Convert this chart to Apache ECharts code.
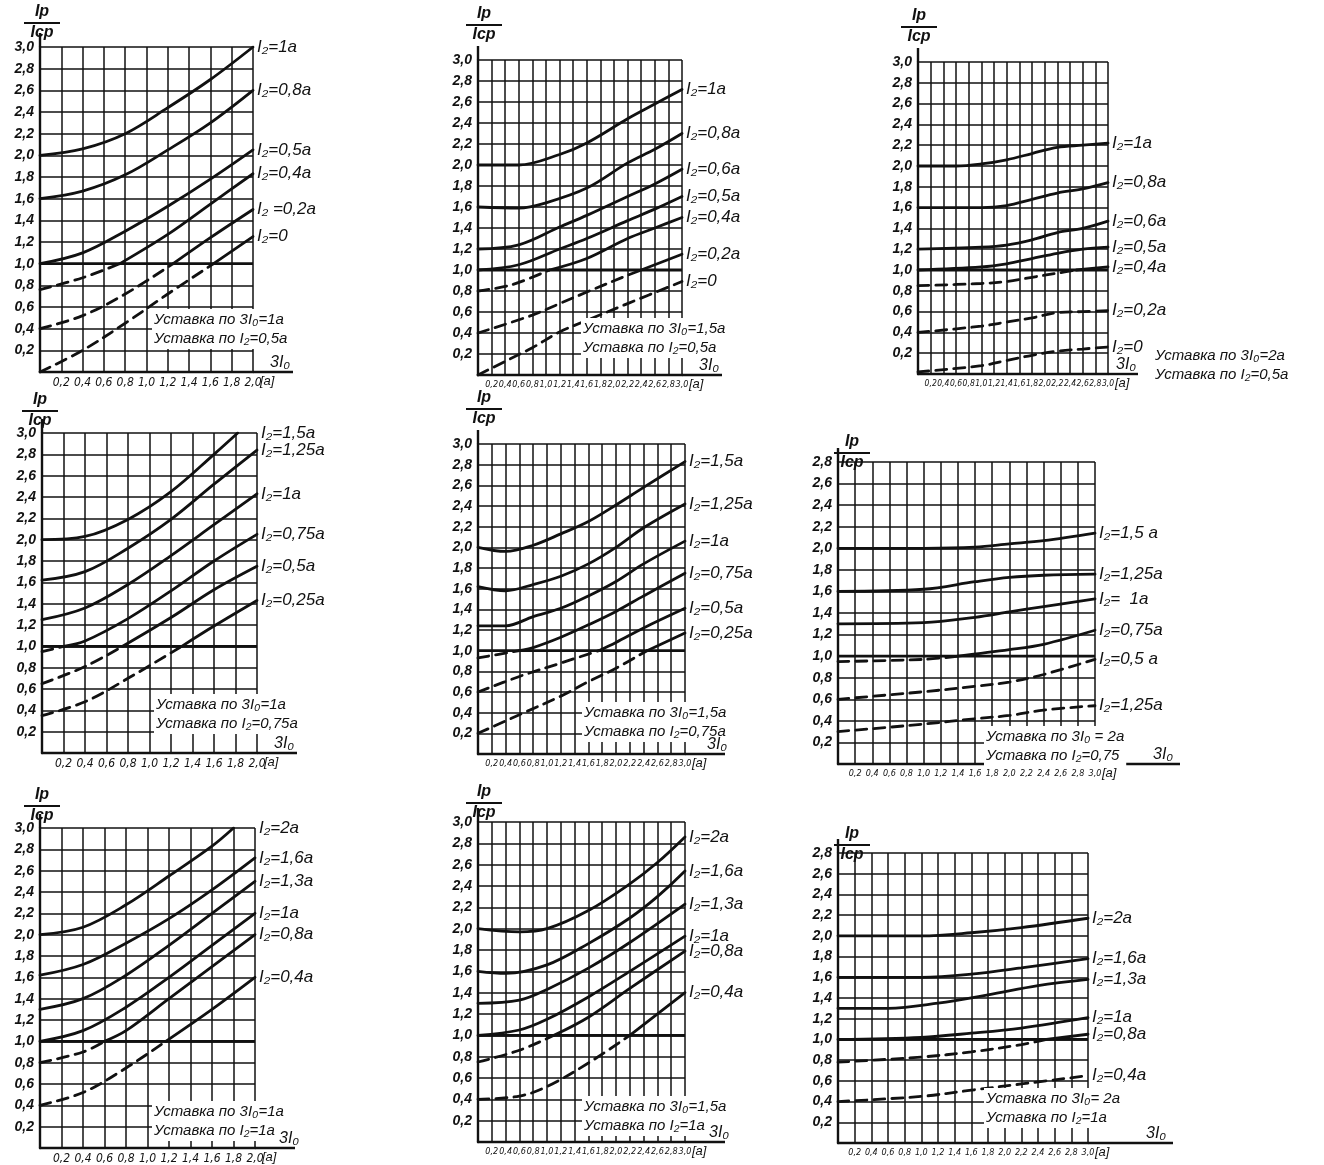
<!DOCTYPE html>
<html>
<head>
<meta charset="utf-8">
<script src="https://cdn.jsdelivr.net/npm/echarts@6/dist/echarts.min.js"></script>
<style>
  html, body { margin: 0; background: #fff; }
  #chart { width: 1324px; height: 1165px; }
</style>
</head>
<body>
<div id="chart"></div>
<script>
// Each curve: list of [3I0 (a), Ip/Icp] points.
// dashTo = index of the last point of the dashed (lower) part; 0 = solid from the start.
const thresholdLevel = 1.0

const A_names = ['I₂=1а', 'I₂=0,8а', 'I₂=0,5а', 'I₂=0,4а', 'I₂ =0,2а', 'I₂=0']
const A_curves = [
  [[0, 2.0], [0.4, 2.06], [0.8, 2.2], [1.2, 2.44], [1.6, 2.7], [2.0, 3.0]],
  [[0, 1.6], [0.4, 1.67], [0.8, 1.82], [1.2, 2.05], [1.6, 2.3], [2.0, 2.6]],
  [[0, 1.0], [0.4, 1.1], [0.8, 1.3], [1.2, 1.53], [1.6, 1.78], [2.0, 2.05]],
  [[0, 0.76], [0.4, 0.87], [0.75, 1.0], [1.2, 1.27], [1.6, 1.55], [2.0, 1.83]],
  [[0, 0.4], [0.4, 0.52], [0.8, 0.72], [1.25, 1.0], [1.6, 1.24], [2.0, 1.5]],
  [[0, 0], [0.4, 0.2], [0.8, 0.45], [1.2, 0.72], [1.63, 1.0], [2.0, 1.25]],
]
const A_dashTo = [0, 0, 0, 2, 3, 4]
const A_notes = ['Уставка по 3I₀=1а', 'Уставка по I₂=0,5а']

const B_names = ['I₂=1а', 'I₂=0,8а', 'I₂=0,6а', 'I₂=0,5а', 'I₂=0,4а', 'I₂=0,2а', 'I₂=0']
const B_curves = [
  [[0, 2.0], [0.6, 2.0], [1.2, 2.1], [1.6, 2.21], [2.2, 2.44], [2.6, 2.58], [3.0, 2.72]],
  [[0, 1.6], [0.6, 1.59], [1.0, 1.64], [1.6, 1.78], [2.2, 2.02], [2.6, 2.15], [3.0, 2.3]],
  [[0, 1.2], [0.6, 1.24], [1.2, 1.41], [1.6, 1.52], [2.2, 1.7], [2.6, 1.82], [3.0, 1.96]],
  [[0, 1.0], [0.6, 1.05], [1.2, 1.2], [1.6, 1.3], [2.2, 1.47], [2.6, 1.58], [3.0, 1.7]],
  [[0, 0.8], [0.5, 0.86], [1.05, 1.0], [1.6, 1.11], [2.2, 1.3], [2.6, 1.4], [3.0, 1.5]],
  [[0, 0.4], [0.8, 0.57], [1.2, 0.68], [1.6, 0.79], [2.2, 0.95], [2.4, 1.0], [3.0, 1.15]],
  [[0, 0], [0.4, 0.13], [0.8, 0.26], [1.2, 0.41], [1.6, 0.52], [2.2, 0.68], [3.0, 0.89]],
]
const B_dashTo = [0, 0, 0, 0, 2, 5, 6]
const B_notes = ['Уставка по 3I₀=1,5а', 'Уставка по I₂=0,5а']

const C_names = ['I₂=1а', 'I₂=0,8а', 'I₂=0,6а', 'I₂=0,5а', 'I₂=0,4а', 'I₂=0,2а', 'I₂=0']
const C_curves = [
  [[0, 2.0], [0.6, 2.0], [1.0, 2.02], [1.4, 2.06], [1.8, 2.12], [2.2, 2.18], [2.6, 2.2], [3.0, 2.22]],
  [[0, 1.6], [1.0, 1.6], [1.4, 1.62], [1.8, 1.68], [2.2, 1.74], [2.6, 1.78], [3.0, 1.84]],
  [[0, 1.2], [1.0, 1.22], [1.4, 1.24], [1.8, 1.29], [2.2, 1.36], [2.6, 1.4], [3.0, 1.47]],
  [[0, 1.0], [1.0, 1.03], [1.4, 1.06], [1.8, 1.11], [2.2, 1.16], [2.6, 1.2], [3.0, 1.22]],
  [[0, 0.85], [1.0, 0.87], [1.4, 0.89], [1.8, 0.93], [2.2, 0.97], [2.5, 1.0], [3.0, 1.03]],
  [[0, 0.4], [1.0, 0.46], [1.4, 0.5], [1.8, 0.54], [2.2, 0.59], [2.6, 0.6], [3.0, 0.61]],
  [[0, 0.02], [1.0, 0.08], [1.4, 0.13], [1.8, 0.18], [2.2, 0.22], [2.6, 0.24], [3.0, 0.26]],
]
const C_dashTo = [0, 0, 0, 0, 5, 6, 6]
const C_notes = ['Уставка по 3I₀=2а', 'Уставка по I₂=0,5а']

const D_names = ['I₂=1,5а', 'I₂=1,25а', 'I₂=1а', 'I₂=0,75а', 'I₂=0,5а', 'I₂=0,25а']
const D_curves = [
  [[0, 2.0], [0.4, 2.03], [0.8, 2.19], [1.2, 2.45], [1.6, 2.8], [1.82, 3.0]],
  [[0, 1.62], [0.4, 1.7], [0.8, 1.92], [1.2, 2.19], [1.6, 2.52], [2.0, 2.84]],
  [[0, 1.25], [0.4, 1.36], [0.8, 1.58], [1.2, 1.85], [1.6, 2.14], [2.0, 2.43]],
  [[0, 0.95], [0.2, 1.0], [0.4, 1.05], [0.8, 1.26], [1.2, 1.52], [1.6, 1.8], [2.0, 2.05]],
  [[0, 0.65], [0.4, 0.81], [0.75, 1.0], [1.2, 1.27], [1.6, 1.53], [2.0, 1.75]],
  [[0, 0.35], [0.4, 0.48], [0.8, 0.7], [1.3, 1.0], [1.6, 1.19], [2.0, 1.43]],
]
const D_dashTo = [0, 0, 0, 1, 2, 3]
const D_notes = ['Уставка по 3I₀=1а', 'Уставка по I₂=0,75а']

const E_names = ['I₂=1,5а', 'I₂=1,25а', 'I₂=1а', 'I₂=0,75а', 'I₂=0,5а', 'I₂=0,25а']
const E_curves = [
  [[0, 2.0], [0.4, 1.96], [0.8, 2.02], [1.2, 2.13], [1.6, 2.25], [2.0, 2.41], [2.4, 2.58], [3.0, 2.83]],
  [[0, 1.62], [0.4, 1.58], [0.8, 1.64], [1.2, 1.72], [1.6, 1.84], [2.0, 2.0], [2.4, 2.19], [3.0, 2.42]],
  [[0, 1.24], [0.4, 1.24], [0.8, 1.33], [1.2, 1.41], [1.6, 1.53], [2.0, 1.67], [2.4, 1.84], [3.0, 2.06]],
  [[0, 0.93], [0.6, 1.0], [0.8, 1.03], [1.2, 1.13], [1.6, 1.25], [2.0, 1.38], [2.4, 1.53], [3.0, 1.75]],
  [[0, 0.6], [0.6, 0.75], [1.2, 0.88], [1.75, 1.0], [2.0, 1.08], [2.4, 1.22], [3.0, 1.41]],
  [[0, 0.2], [0.6, 0.38], [1.2, 0.56], [1.6, 0.7], [2.0, 0.83], [2.45, 1.0], [3.0, 1.17]],
]
const E_dashTo = [0, 0, 0, 1, 3, 5]
const E_notes = ['Уставка по 3I₀=1,5а', 'Уставка по I₂=0,75а']

const F_names = ['I₂=1,5 а', 'I₂=1,25а', 'I₂=  1а', 'I₂=0,75а', 'I₂=0,5 а', 'I₂=1,25а']
const F_curves = [
  [[0, 2.0], [1.0, 2.0], [1.6, 2.01], [2.0, 2.04], [2.4, 2.07], [3.0, 2.14]],
  [[0, 1.6], [1.0, 1.62], [1.6, 1.69], [2.0, 1.73], [2.4, 1.75], [3.0, 1.76]],
  [[0, 1.3], [1.0, 1.31], [1.6, 1.36], [2.0, 1.41], [2.4, 1.46], [3.0, 1.53]],
  [[0, 0.95], [1.0, 0.97], [1.4, 1.0], [2.0, 1.06], [2.4, 1.11], [3.0, 1.24]],
  [[0, 0.6], [1.0, 0.67], [1.6, 0.72], [2.0, 0.76], [2.4, 0.83], [3.0, 0.97]],
  [[0, 0.3], [1.0, 0.37], [1.6, 0.42], [2.0, 0.45], [2.4, 0.5], [3.0, 0.54]],
]
const F_dashTo = [0, 0, 0, 2, 5, 5]
const F_notes = ['Уставка по 3I₀ = 2а', 'Уставка по I₂=0,75']

const G_names = ['I₂=2а', 'I₂=1,6а', 'I₂=1,3а', 'I₂=1а', 'I₂=0,8а', 'I₂=0,4а']
const G_curves = [
  [[0, 2.0], [0.4, 2.07], [0.8, 2.28], [1.2, 2.55], [1.6, 2.83], [1.8, 3.0]],
  [[0, 1.62], [0.4, 1.72], [0.8, 1.92], [1.2, 2.15], [1.6, 2.42], [2.0, 2.72]],
  [[0, 1.3], [0.4, 1.4], [0.8, 1.62], [1.2, 1.9], [1.6, 2.2], [2.0, 2.5]],
  [[0, 1.0], [0.4, 1.1], [0.8, 1.32], [1.2, 1.6], [1.6, 1.9], [2.0, 2.2]],
  [[0, 0.8], [0.4, 0.9], [0.6, 1.0], [0.8, 1.1], [1.2, 1.4], [1.6, 1.7], [2.0, 2.0]],
  [[0, 0.4], [0.4, 0.52], [0.8, 0.75], [1.17, 1.0], [1.6, 1.3], [2.0, 1.6]],
]
const G_dashTo = [0, 0, 0, 0, 2, 3]
const G_notes = ['Уставка по 3I₀=1а', 'Уставка по I₂=1а']

const H_names = ['I₂=2а', 'I₂=1,6а', 'I₂=1,3а', 'I₂=1а', 'I₂=0,8а', 'I₂=0,4а']
const H_curves = [
  [[0, 2.0], [0.6, 1.97], [1.0, 2.0], [1.6, 2.17], [2.2, 2.42], [2.6, 2.62], [3.0, 2.86]],
  [[0, 1.6], [0.4, 1.58], [1.0, 1.66], [1.6, 1.86], [2.2, 2.1], [2.6, 2.3], [3.0, 2.54]],
  [[0, 1.3], [0.6, 1.33], [1.0, 1.43], [1.6, 1.63], [2.2, 1.87], [3.0, 2.23]],
  [[0, 1.0], [0.6, 1.05], [1.0, 1.15], [1.6, 1.36], [2.2, 1.6], [3.0, 1.93]],
  [[0, 0.75], [0.6, 0.86], [1.1, 1.0], [1.6, 1.17], [2.2, 1.44], [3.0, 1.79]],
  [[0, 0.4], [0.6, 0.43], [1.0, 0.52], [1.6, 0.74], [2.2, 1.0], [3.0, 1.4]],
]
const H_dashTo = [0, 0, 0, 0, 2, 4]
const H_notes = ['Уставка по 3I₀=1,5а', 'Уставка по I₂=1а']

const I_names = ['I₂=2а', 'I₂=1,6а', 'I₂=1,3а', 'I₂=1а', 'I₂=0,8а', 'I₂=0,4а']
const I_curves = [
  [[0, 2.0], [1.0, 2.0], [1.6, 2.03], [2.2, 2.08], [3.0, 2.17]],
  [[0, 1.6], [1.0, 1.6], [1.6, 1.63], [2.2, 1.69], [3.0, 1.78]],
  [[0, 1.3], [0.6, 1.3], [1.2, 1.35], [1.8, 1.43], [2.4, 1.52], [3.0, 1.58]],
  [[0, 1.0], [1.0, 1.02], [1.6, 1.06], [2.2, 1.11], [3.0, 1.21]],
  [[0, 0.78], [1.0, 0.83], [1.6, 0.88], [2.2, 0.95], [2.5, 1.0], [3.0, 1.05]],
  [[0, 0.4], [1.0, 0.45], [1.6, 0.51], [2.2, 0.57], [3.0, 0.65]],
]
const I_dashTo = [0, 0, 0, 0, 4, 4]
const I_notes = ['Уставка по 3I₀= 2а', 'Уставка по I₂=1а']

// layout: grid rect [left, top, width, height], axis extension, text anchors (px)
const panels = [
  { rect: [40, 47, 213, 325], xMax: 2, yMax: 3, names: A_names, curves: A_curves, dashTo: A_dashTo, notes: A_notes, noteAt: [152, 309], fracAt: [42, 4], ext: 40, nameDx: 17 },
  { rect: [478, 60, 204, 315], xMax: 3, yMax: 3, names: B_names, curves: B_curves, dashTo: B_dashTo, notes: B_notes, noteAt: [581, 318], fracAt: [484, 6], ext: 40, nameDx: 17 },
  { rect: [918, 62, 190, 312], xMax: 3, yMax: 3, names: C_names, curves: C_curves, dashTo: C_dashTo, notes: C_notes, noteAt: [1153, 345], fracAt: [919, 8], ext: 30, nameDx: 8 },
  { rect: [42, 433, 215, 320], xMax: 2, yMax: 3, names: D_names, curves: D_curves, dashTo: D_dashTo, notes: D_notes, noteAt: [154, 694], fracAt: [40, 392], ext: 40, nameDx: 17 },
  { rect: [478, 444, 207, 310], xMax: 3, yMax: 3, names: E_names, curves: E_curves, dashTo: E_dashTo, notes: E_notes, noteAt: [582, 702], fracAt: [484, 390], ext: 40, nameDx: 22 },
  { rect: [838, 462, 257, 302], xMax: 3, yMax: 2.8, names: F_names, curves: F_curves, dashTo: F_dashTo, notes: F_notes, noteAt: [984, 726], fracAt: [852, 434], ext: 85, nameDx: 58 },
  { rect: [40, 828, 215, 320], xMax: 2, yMax: 3, names: G_names, curves: G_curves, dashTo: G_dashTo, notes: G_notes, noteAt: [152, 1101], fracAt: [42, 787], ext: 40, nameDx: 24 },
  { rect: [478, 822, 207, 320], xMax: 3, yMax: 3, names: H_names, curves: H_curves, dashTo: H_dashTo, notes: H_notes, noteAt: [582, 1096], fracAt: [484, 784], ext: 40, nameDx: 24 },
  { rect: [838, 853, 250, 290], xMax: 3, yMax: 2.8, names: I_names, curves: I_curves, dashTo: I_dashTo, notes: I_notes, noteAt: [984, 1088], fracAt: [852, 826], ext: 85, nameDx: 58 },
]

const FONT = "'Liberation Sans', 'DejaVu Sans', sans-serif"
const NARROW = "'Liberation Sans Narrow', 'DejaVu Sans Condensed', 'Liberation Sans', sans-serif"
const INK = '#111'

function tickLabel(v) {
  if (Math.abs(v) < 1e-6) return ''
  return (Math.round(v * 10) / 10).toFixed(1).replace('.', ',')
}

function curveSeries(idx, data, dashed, label, labelShift) {
  return {
    type: 'line',
    xAxisIndex: idx,
    yAxisIndex: idx,
    data,
    smooth: 0.35,
    symbol: 'none',
    silent: true,
    lineStyle: { color: INK, width: 2.8, type: dashed ? [11, 7] : 'solid', cap: 'round' },
    endLabel: label ? {
      show: true,
      formatter: label,
      color: INK,
      fontFamily: FONT,
      fontStyle: 'italic',
      fontSize: 17,
      distance: 4,
      offset: labelShift || [0, 0],
    } : { show: false },
  }
}

const grids = []
const xAxes = []
const yAxes = []
const series = []
const graphics = []

panels.forEach((p, i) => {
  const [left, top, w, h] = p.rect
  const right = left + w
  const bottom = top + h
  grids.push({ left, top, width: w, height: h, outerBoundsMode: 'none' })

  xAxes.push({
    type: 'value', gridIndex: i, min: 0, max: p.xMax, interval: 0.2,
    axisLine: { show: true, onZero: false, lineStyle: { color: INK, width: 2.4 } },
    axisTick: { show: false },
    splitLine: { show: true, lineStyle: { color: INK, width: 1.5 } },
    axisLabel: {
      formatter: tickLabel, color: INK, fontFamily: NARROW, fontStyle: 'italic',
      fontSize: p.xMax > 2 ? (w < 200 ? 8.5 : 9) : 12, margin: 5, interval: 0, hideOverlap: false,
      showMinLabel: true, showMaxLabel: true,
    },
  })
  yAxes.push({
    type: 'value', gridIndex: i, min: 0, max: p.yMax, interval: 0.2,
    axisLine: { show: true, onZero: false, lineStyle: { color: INK, width: 2.4 } },
    axisTick: { show: false },
    splitLine: { show: true, lineStyle: { color: INK, width: 1.5 } },
    axisLabel: {
      formatter: tickLabel, color: INK, fontFamily: FONT, fontStyle: 'italic',
      fontWeight: 'bold', fontSize: 14, margin: 6, hideOverlap: false,
      showMinLabel: true, showMaxLabel: true,
    },
  })

  // heavy line at Ip/Icp = 1
  series.push({
    type: 'line', xAxisIndex: i, yAxisIndex: i, silent: true, symbol: 'none',
    data: [[0, thresholdLevel], [p.xMax, thresholdLevel]],
    lineStyle: { color: INK, width: 2.8 },
  })

  p.curves.forEach((pts, k) => {
    const d = p.dashTo[k]
    const last = pts[pts.length - 1]
    const shift = [(p.xMax - last[0]) / p.xMax * w, 0]
    if (d > 0) {
      series.push(curveSeries(i, pts.slice(0, d + 1), true, d >= pts.length - 1 ? p.names[k] : null, shift))
    }
    if (d < pts.length - 1) {
      series.push(curveSeries(i, pts.slice(d), false, p.names[k], shift))
    }
  })

  // axis extensions, axis names, fraction and setting notes
  graphics.push(
    { type: 'line', shape: { x1: left, y1: top, x2: left, y2: top - 14 }, style: { stroke: INK, lineWidth: 2.4 } },
    { type: 'line', shape: { x1: right, y1: bottom, x2: right + p.ext, y2: bottom }, style: { stroke: INK, lineWidth: 2.4 } },
    {
      type: 'text', x: p.noteAt[0], y: p.noteAt[1], z: 10,
      style: {
        text: p.notes.join('\n'), font: `italic 15px ${FONT}`, fill: INK, lineHeight: 19,
        backgroundColor: '#fff', padding: [1, 2],
      },
    },
    { type: 'text', x: right + p.nameDx, y: bottom - 17, z: 20, style: { text: '3I₀', font: `italic 16px ${FONT}`, fill: INK } },
    { type: 'text', x: right + 7, y: bottom + 3, style: { text: '[а]', font: `italic 13px ${FONT}`, fill: INK } },
    { type: 'text', x: p.fracAt[0], y: p.fracAt[1], style: { text: 'Iр', font: `italic bold 16px ${FONT}`, fill: INK, align: 'center' } },
    { type: 'line', shape: { x1: p.fracAt[0] - 18, y1: p.fracAt[1] + 19, x2: p.fracAt[0] + 18, y2: p.fracAt[1] + 19 }, style: { stroke: INK, lineWidth: 1.8 } },
    { type: 'text', x: p.fracAt[0], y: p.fracAt[1] + 21, style: { text: 'Iср', font: `italic bold 16px ${FONT}`, fill: INK, align: 'center' } },
  )
})

const chart = echarts.init(document.getElementById('chart'))
chart.setOption({
  animation: false,
  backgroundColor: '#fff',
  grid: grids,
  xAxis: xAxes,
  yAxis: yAxes,
  series,
  graphic: graphics,
})
</script>
</body>
</html>
